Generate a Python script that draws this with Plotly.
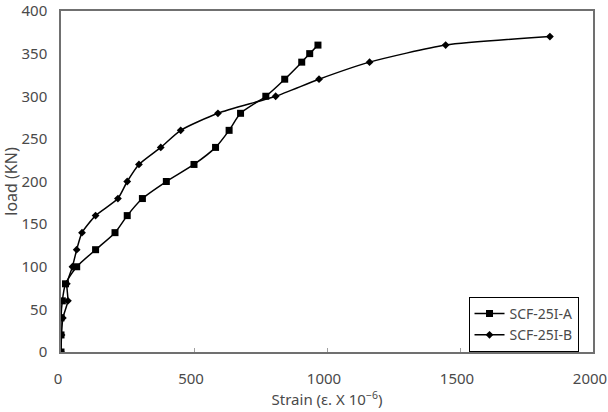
import plotly.graph_objects as go

a_strain = [0, 0, 0, 5, 17, 59, 130, 203, 249, 306, 396, 500, 581, 632, 675, 770, 841, 905, 935, 966]
a_load = [0, 20, 40, 60, 80, 100, 120, 140, 160, 180, 200, 220, 240, 260, 280, 300, 320, 340, 350, 360]

b_strain = [0, 2, 7, 26, 22, 43, 59, 79, 130, 214, 249, 293, 375, 450, 590, 807, 970, 1160, 1446, 1838]
b_load = [0, 20, 40, 60, 80, 100, 120, 140, 160, 180, 200, 220, 240, 260, 280, 300, 320, 340, 360, 370]

x_ticks = [0, 500, 1000, 1500, 2000]
y_ticks = [0, 50, 100, 150, 200, 250, 300, 350, 400]

font_family = "Noto Sans, DejaVu Sans, sans-serif"
gray = "#4a4a4a"

fig = go.Figure()
fig.add_trace(go.Scatter(
    x=a_strain, y=a_load, name="SCF-25I-A", mode="lines+markers",
    line=dict(color="black", width=1.5, shape="spline", smoothing=0.6),
    marker=dict(symbol="square", size=7, color="black"),
))
fig.add_trace(go.Scatter(
    x=b_strain, y=b_load, name="SCF-25I-B", mode="lines+markers",
    line=dict(color="black", width=1.5, shape="spline", smoothing=0.6),
    marker=dict(symbol="diamond", size=6, color="black"),
))

fig.update_layout(
    width=624, height=412,
    margin=dict(l=61, r=31, t=11, b=60, autoexpand=False),
    paper_bgcolor="white", plot_bgcolor="white",
    font=dict(family=font_family, size=15, color=gray),
    showlegend=True,
    legend=dict(
        x=0.766, y=0.0, xanchor="left", yanchor="bottom",
        bordercolor="black", borderwidth=1, bgcolor="white",
        font=dict(size=14, color=gray),
        tracegroupgap=2,
    ),
)
fig.update_xaxes(
    range=[0, 2000], tickvals=x_ticks, ticktext=[str(v) for v in x_ticks],
    showgrid=False, zeroline=False, automargin=False,
    showline=True, mirror=True, linecolor="#707070", linewidth=1.5,
    ticks="inside", ticklen=4, tickcolor="#a0a0a0",
    ticklabelstandoff=12, ticklabelshift=-3,
    title=dict(text="Strain (ε. X 10<sup>−6</sup>)", standoff=0,
               font=dict(size=15, color=gray)),
)
fig.update_yaxes(
    range=[0, 400], tickvals=y_ticks, ticktext=[str(v) for v in y_ticks],
    showgrid=False, zeroline=False, automargin=False,
    showline=True, mirror=True, linecolor="#707070", linewidth=1.5,
    ticks="", ticklabelstandoff=9,
    title=dict(text="load (KN)", standoff=6, font=dict(size=16, color=gray)),
)

fig.write_html(
    "out.html",
    config={"displayModeBar": False},
    post_script="document.body.style.margin='0';document.body.style.overflow='hidden';",
)
